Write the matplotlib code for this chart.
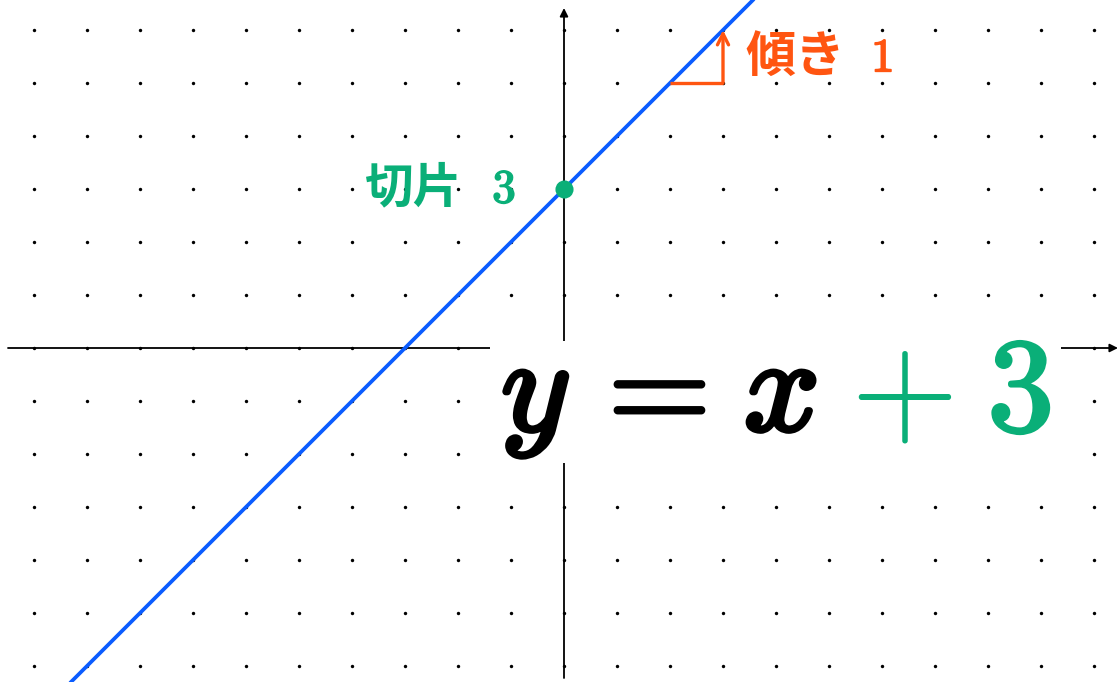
import matplotlib
matplotlib.use("Agg")
import matplotlib.pyplot as plt
import matplotlib.patheffects as pe
import numpy as np
from matplotlib.patches import Rectangle

# data
slope = 1
intercept = 3
grid_x = list(range(-10, 11))
grid_y = list(range(-6, 7))
intercept_label = "切片"
slope_label = "傾き"

BLUE = "#0a5cff"
GREEN = "#0aaf78"
ORANGE = "#ff5511"

plt.rcParams['mathtext.fontset'] = 'cm'

fig = plt.figure(figsize=(11.2, 6.82), dpi=100)
ax = fig.add_axes([0, 0, 1, 1])
u = 53.0
ax.set_xlim(-564 / u, (1120 - 564) / u)
ax.set_ylim(-(682 - 348) / u, 348 / u)
ax.axis('off')

def px(x):
    return (x - 564) / u

def py(y):
    return (348 - y) / u

def bold(color, lw):
    return [pe.Stroke(linewidth=lw, foreground=color), pe.Normal()]

# dot grid
gx, gy = np.meshgrid(grid_x, grid_y)
ax.scatter(gx.ravel(), gy.ravel(), s=6, color='black', zorder=1, linewidths=0)

# axes with arrows
ax.annotate('', xy=(px(1118), 0), xytext=(px(8), 0), annotation_clip=False,
            arrowprops=dict(arrowstyle='-|>', color='black', lw=1.3, mutation_scale=12, shrinkA=0, shrinkB=0), zorder=2)
ax.annotate('', xy=(0, py(8)), xytext=(0, py(678)), annotation_clip=False,
            arrowprops=dict(arrowstyle='-|>', color='black', lw=1.3, mutation_scale=12, shrinkA=0, shrinkB=0), zorder=2)

# line
xs = np.array([-12, 12])
ax.plot(xs, slope * xs + intercept, color=BLUE, lw=2.7, zorder=3, solid_capstyle='butt')

# intercept point
ax.scatter([0], [intercept], s=170, color=GREEN, zorder=5, linewidths=0)
cjk = ['Noto Sans CJK JP', 'DejaVu Sans']
ax.text(px(462), py(188), intercept_label, color=GREEN, fontsize=35, fontweight='bold',
        family=cjk, ha='right', va='center', zorder=6)
ax.text(px(504), py(190), r"$\mathbf{%d}$" % intercept, color=GREEN, fontsize=34,
        ha='center', va='center', zorder=6, path_effects=bold(GREEN, 1.2))

# slope triangle
x0 = 2
ax.plot([x0, x0 + 1], [slope * x0 + intercept] * 2, color=ORANGE, lw=2.4, zorder=4, solid_capstyle='butt')
ax.annotate('', xy=(x0 + 1, slope * (x0 + 1) + intercept), xytext=(x0 + 1, slope * x0 + intercept),
            arrowprops=dict(arrowstyle='->', color=ORANGE, lw=2.4, mutation_scale=20, shrinkA=0, shrinkB=0), zorder=4)
ax.text(px(745), py(57), slope_label, color=ORANGE, fontsize=36, fontweight='bold',
        family=cjk, ha='left', va='center', zorder=6)
ax.text(px(882), py(59), r"$\mathbf{%d}$" % slope, color=ORANGE, fontsize=34,
        ha='center', va='center', zorder=6, path_effects=bold(ORANGE, 1.2))

# equation with white box
ax.add_patch(Rectangle((px(490), py(463)), (1061 - 490) / u, (463 - 341) / u,
                       facecolor='white', edgecolor='none', zorder=7))
base = py(431)
fs = 96
ax.text(px(535), base, r"$y$", color='black', fontsize=fs, ha='center', va='baseline', zorder=8,
        path_effects=bold('black', 3.5))
ax.text(px(645), base, r"$=$", color='black', fontsize=fs, ha='center', va='baseline', zorder=8,
        path_effects=bold('black', 2.2))
ax.text(px(780), base, r"$x$", color='black', fontsize=fs, ha='center', va='baseline', zorder=8,
        path_effects=bold('black', 3.5))
ax.text(px(901), base, r"$+$", color=GREEN, fontsize=fs + 4, ha='center', va='baseline', zorder=8)
ax.text(px(1019), base, r"$\mathbf{%d}$" % intercept, color=GREEN, fontsize=fs, ha='center', va='baseline',
        zorder=8, path_effects=bold(GREEN, 2.5))

fig.savefig("out.png", dpi=100)
